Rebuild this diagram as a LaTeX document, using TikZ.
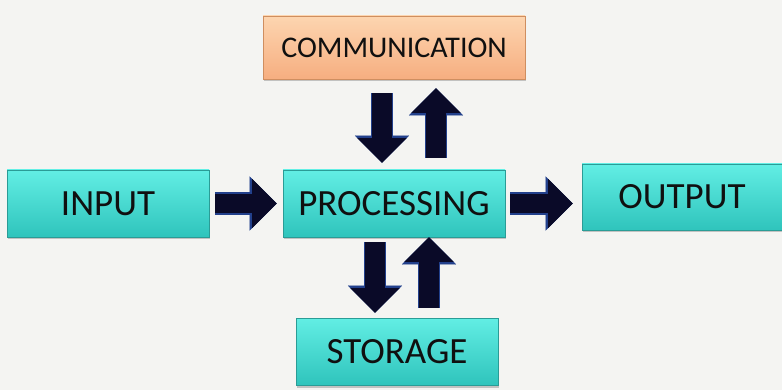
\documentclass[tikz,border=0pt]{standalone}
\usepackage{fontspec}
\setmainfont{Carlito}
\usetikzlibrary{arrows.meta,shadows}
\definecolor{bgc}{HTML}{F4F4F2}
\definecolor{cyantop}{HTML}{62EEE4}
\definecolor{cyanbot}{HTML}{2FC4BC}
\definecolor{cyanedge}{HTML}{2A9C96}
\definecolor{peachtop}{HTML}{FDD5B0}
\definecolor{peachbot}{HTML}{F6AE80}
\definecolor{peachedge}{HTML}{CF8E60}
\definecolor{navy}{HTML}{0A0A28}
\definecolor{glow}{HTML}{22408C}
\definecolor{txt}{HTML}{101010}
\tikzset{
  box/.style={rectangle, draw=cyanedge, line width=0.8pt, top color=cyantop, bottom color=cyanbot,
    text=txt, inner sep=0pt, font=\fontsize{37}{44}\selectfont,
    drop shadow={shadow xshift=1pt, shadow yshift=-2.5pt, opacity=0.35, fill=black!60}},
  peachbox/.style={box, draw=peachedge, top color=peachtop, bottom color=peachbot,
    font=\fontsize{30}{36}\selectfont},
  glowarrow/.style={draw=glow, line width=22.5pt, -{Triangle[width=54pt,length=27pt,line width=0.1pt,fill=glow]}},
  corearrow/.style={draw=navy, line width=19.5pt, -{Triangle[width=49pt,length=24.5pt,line width=0.1pt,fill=navy]}},
}
\begin{document}
\begin{tikzpicture}[x=1pt,y=-1pt]
\fill[bgc] (0,0) rectangle (782,390);
\useasboundingbox (0,0) rectangle (782,390);

\node[peachbox, minimum width=262pt, minimum height=63pt] (comm) at (394,47.5) {COMMUNICATION};
\node[box, minimum width=202pt, minimum height=67pt] (in) at (108,203.5) {INPUT};
\node[box, minimum width=222pt, minimum height=67pt] (proc) at (394,203.5) {PROCESSING};
\node[box, minimum width=200pt, minimum height=66pt] (out) at (682,197) {OUTPUT};
\node[box, minimum width=202pt, minimum height=67pt] (stor) at (397,351.5) {STORAGE};

\foreach \st in {glowarrow,corearrow}{
  \draw[\st, shorten <=6pt, shorten >=6pt] (in.east) -- (proc.west);
  \draw[\st, shorten <=5pt, shorten >=9pt] (proc.east) -- (proc.east -| out.west);
  \draw[\st, shorten <=14pt, shorten >=7pt] ([xshift=-12pt]comm.south) -- ([xshift=-12pt]comm.south |- proc.north);
  \draw[\st, shorten <=12pt, shorten >=9pt] ([xshift=42pt]proc.north) -- ([xshift=42pt]proc.north |- comm.south);
  \draw[\st, shorten <=5pt, shorten >=5pt] ([xshift=-19pt]proc.south) -- ([xshift=-19pt]proc.south |- stor.north);
  \draw[\st, shorten <=10pt, shorten >=0pt] ([xshift=35pt]proc.south |- stor.north) -- ([xshift=35pt]proc.south);
}
\end{tikzpicture}
\end{document}
